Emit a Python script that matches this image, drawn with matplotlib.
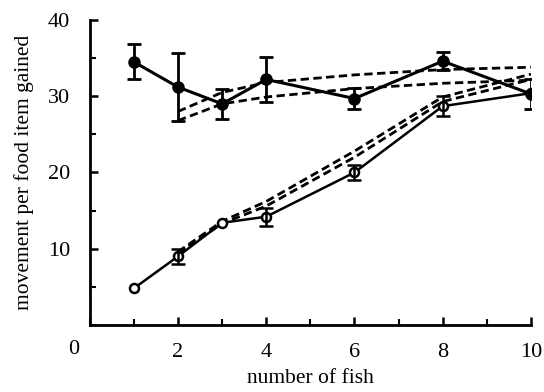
import numpy as np
import matplotlib
matplotlib.use("Agg")
from matplotlib import pyplot as plt
from matplotlib.ticker import MultipleLocator

plt.rcParams['font.family'] = ['Liberation Serif', 'DejaVu Serif']

# observed, filled circles
fish_filled = [1, 2, 3, 4, 6, 8, 10]
move_filled = [34.5, 31.2, 29.0, 32.2, 29.7, 34.6, 30.3]
err_filled = [2.3, 4.5, 2.0, 3.0, 1.4, 1.2, 2.0]

# observed, open circles
fish_open = [1, 2, 3, 4, 6, 8, 10]
move_open = [4.8, 9.0, 13.4, 14.2, 20.0, 28.7, 30.4]
err_open = [0.0, 1.0, 0.0, 1.2, 1.0, 1.3, 0.0]

# model predictions (dashed)
fish_model = [2, 3, 4, 6, 8, 10]
model_up_a = [28.0, 30.5, 31.8, 32.8, 33.5, 33.8]
model_up_b = [26.8, 29.0, 29.9, 31.0, 31.7, 32.1]
model_lo_a = [9.6, 13.6, 16.2, 22.8, 29.9, 32.9]
model_lo_b = [9.4, 13.3, 15.6, 22.0, 29.3, 32.2]

fig = plt.figure(figsize=(5.44, 3.92), dpi=100)
ax = fig.add_axes([0.165, 0.171, 0.811, 0.778])

for ys in (model_up_a, model_up_b, model_lo_a, model_lo_b):
    ax.plot(fish_model, ys, color='black', lw=2.0, dashes=(3.0, 1.6))

ax.errorbar(fish_filled, move_filled, yerr=err_filled, color='black', lw=2.2,
            marker='o', ms=8, mfc='black', capsize=5, capthick=2, elinewidth=2)

ax.plot(fish_open, move_open, color='black', lw=1.8, marker='o', ms=6.5,
        mfc='white', mew=1.8)
keep = [i for i, e in enumerate(err_open) if e > 0]
ax.errorbar([fish_open[i] for i in keep], [move_open[i] for i in keep],
            yerr=[err_open[i] for i in keep], fmt='none', ecolor='black',
            capsize=5, capthick=1.8, elinewidth=1.8)

ax.set_xlim(0, 10)
ax.set_ylim(0, 40)
ax.spines['top'].set_visible(False)
ax.spines['right'].set_visible(False)
for s in ('left', 'bottom'):
    ax.spines[s].set_linewidth(2)

ax.xaxis.set_major_locator(MultipleLocator(2))
ax.xaxis.set_minor_locator(MultipleLocator(1))
ax.yaxis.set_major_locator(MultipleLocator(10))
ax.yaxis.set_minor_locator(MultipleLocator(5))
ax.tick_params(which='major', direction='in', length=6, width=1.8, labelsize=16)
ax.tick_params(which='minor', direction='in', length=4, width=1.5)
ax.tick_params(axis='x', pad=13)
ax.tick_params(axis='y', pad=14)

ax.set_xticks([2, 4, 6, 8, 10])
ax.set_yticks([10, 20, 30, 40])
ax.text(-0.37, -0.08, '0', transform=ax.get_xaxis_transform(), fontsize=16,
        ha='center', va='center')

ax.set_xlabel('number of fish', fontsize=15.5, labelpad=5)
ax.set_ylabel('movement per food item gained', fontsize=15.5, labelpad=10)

fig.savefig('out.png', dpi=100)
